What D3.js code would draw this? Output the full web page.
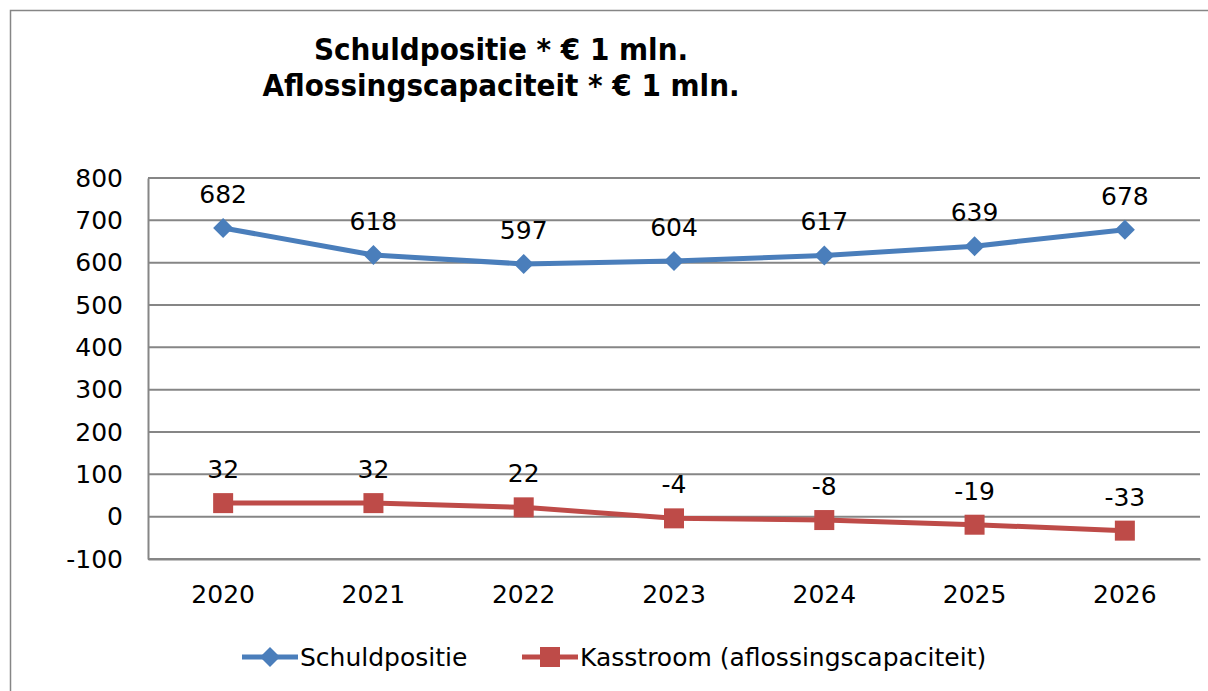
<!DOCTYPE html>
<html>
<head>
<meta charset="utf-8">
<script src="https://cdn.jsdelivr.net/npm/d3@7"></script>
<style>
  body { margin: 0; background: #fff; }
  svg { display: block; font-family: "DejaVu Sans", Verdana, sans-serif; }
  svg text { font-family: "DejaVu Sans", Verdana, sans-serif; }
</style>
</head>
<body>
<div id="chart"></div>
<script>
// data
const years = ['2020', '2021', '2022', '2023', '2024', '2025', '2026']
const schuld = [682, 618, 597, 604, 617, 639, 678]
const kasstroom = [32, 32, 22, -4, -8, -19, -33]
const yTicks = [-100, 0, 100, 200, 300, 400, 500, 600, 700, 800]
const titleLines = ['Schuldpositie * € 1 mln.', 'Aflossingscapaciteit * € 1 mln.']

const W = 1208, H = 691
const plot = { left: 148, right: 1200, top: 178, bottom: 559 }
const fontSize = '25px'

const svg = d3.select('#chart').append('svg')
    .attr('width', W)
    .attr('height', H)

// outer frame
svg.append('rect')
    .attr('x', 10.5).attr('y', 10.5)
    .attr('width', W).attr('height', H)
    .attr('fill', 'none')
    .attr('stroke', '#868686')
    .attr('stroke-width', 1.5)

const x = d3.scaleBand()
    .domain(years)
    .range([plot.left, plot.right])

const y = d3.scaleLinear()
    .domain([-100, 800])
    .range([plot.bottom, plot.top])

// gridlines
svg.append('g')
    .selectAll('line')
    .data(yTicks)
    .enter().append('line')
    .attr('x1', plot.left).attr('x2', plot.right)
    .attr('y1', d => y(d)).attr('y2', d => y(d))
    .attr('stroke', '#868686')
    .attr('stroke-width', 2)

// y axis
const yAxis = svg.append('g')
    .attr('transform', 'translate(' + plot.left + ',0)')
    .call(d3.axisLeft(y).tickValues(yTicks).tickSize(0).tickPadding(25)
        .tickFormat(d => String(d)))
yAxis.select('.domain').attr('stroke', '#868686').attr('stroke-width', 2)
yAxis.selectAll('text')
    .style('font-size', fontSize)
    .attr('fill', '#000')

// x axis
const xAxis = svg.append('g')
    .attr('transform', 'translate(0,' + plot.bottom + ')')
    .call(d3.axisBottom(x).tickSize(0).tickPadding(26))
xAxis.select('.domain').attr('stroke', '#868686').attr('stroke-width', 2)
xAxis.selectAll('text')
    .style('font-size', fontSize)
    .attr('fill', '#000')

const cx = d => x(d) + x.bandwidth() / 2

const series = [
    { name: 'Schuldpositie', values: schuld, color: '#4A7EBB', shape: 'diamond' },
    { name: 'Kasstroom (aflossingscapaciteit)', values: kasstroom, color: '#BE4B48', shape: 'square' }
]

const line = d3.line()
    .x(d => cx(d.year))
    .y(d => y(d.value))

function drawMarker(g, shape, color) {
    if (shape === 'diamond') {
        g.append('path')
            .attr('d', 'M0,-10L10,0L0,10L-10,0Z')
            .attr('fill', color)
    } else {
        g.append('rect')
            .attr('x', -10).attr('y', -10)
            .attr('width', 20).attr('height', 20)
            .attr('fill', color)
    }
}

series.forEach(s => {
    const pts = years.map((yr, i) => ({ year: yr, value: s.values[i] }))
    svg.append('path')
        .datum(pts)
        .attr('d', line)
        .attr('fill', 'none')
        .attr('stroke', s.color)
        .attr('stroke-width', 5)
        .attr('stroke-linejoin', 'round')

    pts.forEach(p => {
        const g = svg.append('g')
            .attr('transform', 'translate(' + cx(p.year) + ',' + y(p.value) + ')')
        drawMarker(g, s.shape, s.color)
        svg.append('text')
            .attr('x', cx(p.year))
            .attr('y', y(p.value) - 25)
            .attr('text-anchor', 'middle')
            .style('font-size', fontSize)
            .text(p.value)
    })
})

// title
svg.append('g')
    .selectAll('text')
    .data(titleLines)
    .enter().append('text')
    .attr('x', 501)
    .attr('y', (d, i) => 60 + i * 36)
    .attr('text-anchor', 'middle')
    .style('font-size', '31px')
    .style('font-weight', 'bold')
    .style('font-family', '"DejaVu Sans Condensed", "DejaVu Sans", sans-serif')
    .text(d => d)

// legend
const legendItems = [
    { s: series[0], x: 242 },
    { s: series[1], x: 522 }
]
legendItems.forEach(item => {
    const g = svg.append('g').attr('transform', 'translate(' + item.x + ',657)')
    g.append('line')
        .attr('x1', 0).attr('x2', 56)
        .attr('stroke', item.s.color)
        .attr('stroke-width', 5)
    const m = g.append('g').attr('transform', 'translate(28,0)')
    drawMarker(m, item.s.shape, item.s.color)
    g.append('text')
        .attr('x', 58)
        .attr('y', 9)
        .style('font-size', fontSize)
        .text(item.s.name)
})
</script>
</body>
</html>
